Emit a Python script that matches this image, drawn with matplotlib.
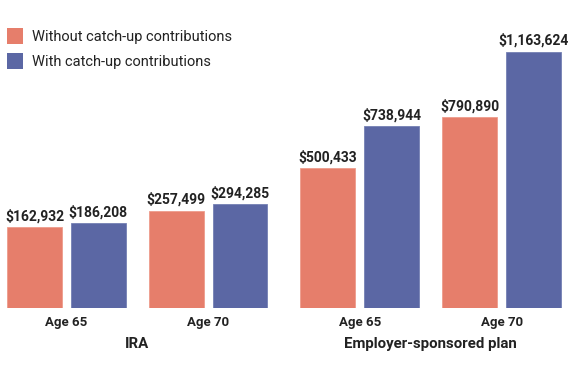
import matplotlib
import matplotlib.pyplot as plt
import numpy as np
from matplotlib.patches import Patch

matplotlib.use("Agg")

ages = ["Age 65", "Age 70", "Age 65", "Age 70"]
groups = ["IRA", "Employer-sponsored plan"]
group_of = [0, 0, 1, 1]
without_catchup = [162932, 257499, 500433, 790890]
with_catchup = [186208, 294285, 738944, 1163624]
series_labels = ["Without catch-up contributions", "With catch-up contributions"]

RED = "#E67E6B"
BLUE = "#5B67A4"
TEXT = "#222222"
BASE = -297000  # chart baseline sits below zero in the original

plt.rcParams["font.family"] = ["Roboto", "DejaVu Sans"]

fig = plt.figure(figsize=(5.8, 3.75), dpi=100)
ax = fig.add_axes([0, (375 - 308) / 375, 1, 288 / 375])

x = np.arange(len(ages)) + 0.07 * np.array(group_of)
width = 0.387
off = 0.225

ax.bar(x - off, np.array(without_catchup) - BASE, width, bottom=BASE,
       color=RED, edgecolor="#EE9C8C", linewidth=0.6)
ax.bar(x + off, np.array(with_catchup) - BASE, width, bottom=BASE,
       color=BLUE, edgecolor="#7480B4", linewidth=0.6)

for xs, vals in ((x - off, without_catchup), (x + off, with_catchup)):
    for xi, v in zip(xs, vals):
        ax.annotate(f"${v:,}", (xi, v), xytext=(0, 3), textcoords="offset points",
                    ha="center", va="bottom", fontsize=10, fontweight="bold", color=TEXT)

ax.set_xlim(-0.468, 3.623)
ax.set_ylim(BASE, 1346500)
ax.set_xticks(x)
ax.set_xticklabels(ages, fontsize=9.5, fontweight="bold", color=TEXT)
ax.tick_params(axis="x", length=0, pad=6)
ax.set_yticks([])
for s in ax.spines.values():
    s.set_visible(False)

for g, name in enumerate(groups):
    gx = x[np.array(group_of) == g].mean()
    ax.annotate(name, (gx, 0), xycoords=("data", "axes fraction"), xytext=(0, -26),
                textcoords="offset points", ha="center", va="center",
                fontsize=10.8, fontweight="bold", color=TEXT)

handles = [Patch(facecolor=RED, label=series_labels[0]),
           Patch(facecolor=BLUE, label=series_labels[1])]
fig.legend(handles=handles, loc="upper left", bbox_to_anchor=(-0.01, 0.96),
           frameon=False, fontsize=10.5, handlelength=1.1, handleheight=1.35,
           handletextpad=0.6, labelspacing=0.55, labelcolor=TEXT)

fig.savefig("out.png", dpi=100)
